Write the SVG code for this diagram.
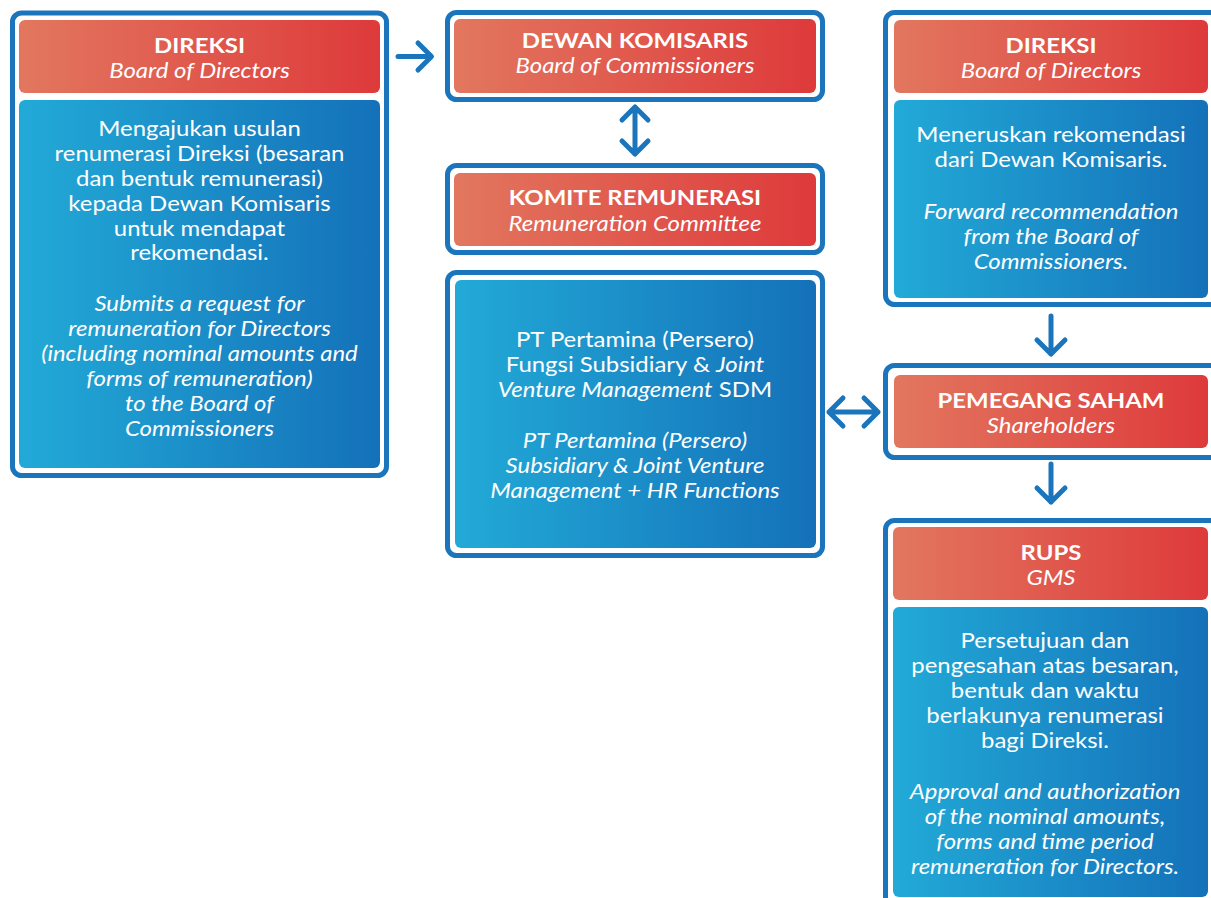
<svg xmlns="http://www.w3.org/2000/svg" width="1211" height="898" viewBox="0 0 1211 898">
<defs>
<linearGradient id="red" x1="0" y1="0" x2="1" y2="0">
<stop offset="0" stop-color="#E2775F"/>
<stop offset="1" stop-color="#DE3A3B"/>
</linearGradient>
<linearGradient id="blue" x1="0" y1="0" x2="1" y2="0">
<stop offset="0" stop-color="#22AAD7"/>
<stop offset="1" stop-color="#1471B9"/>
</linearGradient>
<style>
.frame{fill:#fff;stroke:#1A75BC;stroke-width:5}
.hd{fill:url(#red)}
.bd{fill:url(#blue)}
text{font-family:Lato,"Open Sans","Liberation Sans",sans-serif;fill:#fff;text-anchor:middle;font-size:21px}
.b{font-weight:bold;font-size:21px}
.i{font-style:italic}
.arr{fill:none;stroke:#1A75BC;stroke-width:5;stroke-linecap:round;stroke-linejoin:round}
</style>
</defs>
<rect width="1211" height="898" fill="#fff"/>

<g id="direksi-left">
<rect class="frame" x="12.5" y="13" width="374" height="462.5" rx="9"/>
<rect class="hd" x="19" y="20" width="361" height="73" rx="6"/>
<rect class="bd" x="19" y="100" width="361" height="368" rx="6"/>
<g transform="matrix(1.14 0 0 1 -27.93 0)">
<text class="b" x="199.5" y="53">DIREKSI</text>
<text class="i" x="199.5" y="78">Board of Directors</text>
<text x="199.5" y="136">Mengajukan usulan</text>
<text x="199.5" y="161">renumerasi Direksi (besaran</text>
<text x="199.5" y="186">dan bentuk remunerasi)</text>
<text x="199.5" y="211">kepada Dewan Komisaris</text>
<text x="199.5" y="236">untuk mendapat</text>
<text x="199.5" y="260">rekomendasi.</text>
<text class="i" x="199.5" y="311">Submits a request for</text>
<text class="i" x="199.5" y="336">remuneration for Directors</text>
<text class="i" x="199.5" y="361">(including nominal amounts and</text>
<text class="i" x="199.5" y="386">forms of remuneration)</text>
<text class="i" x="199.5" y="411">to the Board of</text>
<text class="i" x="199.5" y="436">Commissioners</text>
</g>
</g>

<g id="dewan-komisaris">
<rect class="frame" x="447.5" y="12.5" width="375" height="87" rx="9"/>
<rect class="hd" x="454" y="19" width="362" height="74" rx="6"/>
<g transform="matrix(1.14 0 0 1 -88.9 0)">
<text class="b" x="635" y="48">DEWAN KOMISARIS</text>
<text class="i" x="635" y="73">Board of Commissioners</text>
</g>
</g>

<g id="komite-remunerasi">
<rect class="frame" x="447.5" y="165.5" width="375" height="87" rx="9"/>
<rect class="hd" x="454" y="173" width="362" height="73" rx="6"/>
<g transform="matrix(1.14 0 0 1 -88.9 0)">
<text class="b" x="635" y="205">KOMITE REMUNERASI</text>
<text class="i" x="635" y="231">Remuneration Committee</text>
</g>
</g>

<g id="pertamina-sdm">
<rect class="frame" x="447.5" y="272.5" width="375" height="283" rx="9"/>
<rect class="bd" x="455" y="280" width="361" height="268" rx="6"/>
<g transform="matrix(1.14 0 0 1 -88.9 0)">
<text x="635" y="347">PT Pertamina (Persero)</text>
<text x="635" y="372">Fungsi Subsidiary &amp; <tspan class="i">Joint</tspan></text>
<text x="635" y="397"><tspan class="i">Venture Management</tspan> SDM</text>
<text class="i" x="635" y="448">PT Pertamina (Persero)</text>
<text class="i" x="635" y="473">Subsidiary &amp; Joint Venture</text>
<text class="i" x="635" y="498">Management + HR Functions</text>
</g>
</g>

<g id="direksi-right">
<rect class="frame" x="885.5" y="12.5" width="340" height="292" rx="9"/>
<rect class="hd" x="894" y="20" width="314" height="73" rx="6"/>
<rect class="bd" x="894" y="100" width="314" height="198" rx="6"/>
<g transform="matrix(1.14 0 0 1 -147.14 0)">
<text class="b" x="1051" y="53">DIREKSI</text>
<text class="i" x="1051" y="78">Board of Directors</text>
<text x="1051" y="142">Meneruskan rekomendasi</text>
<text x="1051" y="167">dari Dewan Komisaris.</text>
<text class="i" x="1051" y="219">Forward recommendation</text>
<text class="i" x="1051" y="244">from the Board of</text>
<text class="i" x="1051" y="269">Commissioners.</text>
</g>
</g>

<g id="pemegang-saham">
<rect class="frame" x="885.5" y="365.5" width="340" height="92" rx="9"/>
<rect class="hd" x="894" y="375" width="314" height="73" rx="6"/>
<g transform="matrix(1.14 0 0 1 -147.14 0)">
<text class="b" x="1051" y="408">PEMEGANG SAHAM</text>
<text class="i" x="1051" y="433">Shareholders</text>
</g>
</g>

<g id="rups">
<rect class="frame" x="885.5" y="520.5" width="340" height="400" rx="9"/>
<rect class="hd" x="893" y="527" width="315" height="73" rx="6"/>
<rect class="bd" x="893" y="607" width="315" height="290" rx="6"/>
<g transform="matrix(1.14 0 0 1 -147.14 0)">
<text class="b" x="1051" y="560">RUPS</text>
<text class="i" x="1051" y="585">GMS</text>
</g>
<g transform="matrix(1.14 0 0 1 -146.3 0)">
<text x="1045" y="648">Persetujuan dan</text>
<text x="1045" y="673">pengesahan atas besaran,</text>
<text x="1045" y="698">bentuk dan waktu</text>
<text x="1045" y="723">berlakunya renumerasi</text>
<text x="1045" y="748">bagi Direksi.</text>
<text class="i" x="1045" y="799">Approval and authorization</text>
<text class="i" x="1045" y="824">of the nominal amounts,</text>
<text class="i" x="1045" y="849">forms and time period</text>
<text class="i" x="1045" y="874">remuneration for Directors.</text>
</g>
</g>

<g id="connectors">
<path class="arr" d="M398,56.5 H431 M418,43 L431.5,56.5 L418,70"/>
<path class="arr" d="M635,107 V154 M622,120 L635,107 L648,120 M622,141 L635,154 L648,141"/>
<path class="arr" d="M1051,316 V354 M1037,340 L1051,354 L1065,340"/>
<path class="arr" d="M829,412 H878 M843,398 L829,412 L843,426 M864,398 L878,412 L864,426"/>
<path class="arr" d="M1051,464 V502 M1037,488 L1051,502 L1065,488"/>
</g>
</svg>
